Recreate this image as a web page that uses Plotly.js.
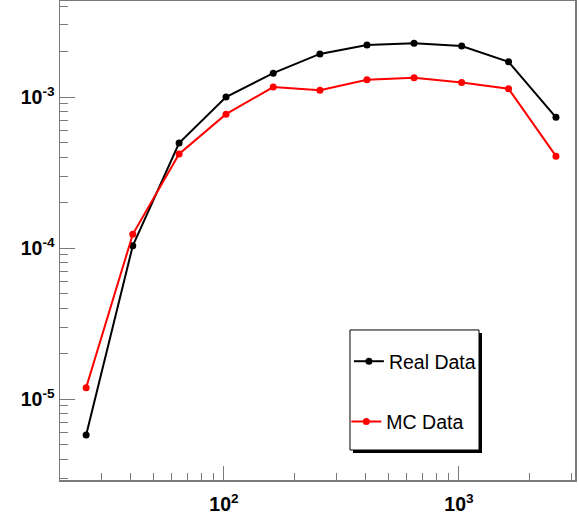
<!DOCTYPE html>
<html>
<head>
<meta charset="utf-8">
<script src="https://cdn.plot.ly/plotly-3.0.1.min.js"></script>
<style>html,body{margin:0;padding:0;background:#fff;}#chart{width:579px;height:517px;}</style>
</head>
<body>
<div id="chart"></div>
<script>
// Data (log-log)
const xValues = [25.9, 40.9, 64.4, 102, 162, 256, 406, 644, 1027, 1626, 2588];
const realData = [5.78e-6, 1.035e-4, 4.96e-4, 1.0e-3, 1.44e-3, 1.93e-3, 2.21e-3, 2.27e-3, 2.18e-3, 1.71e-3, 7.34e-4];
const mcData = [1.19e-5, 1.233e-4, 4.2e-4, 7.7e-4, 1.165e-3, 1.11e-3, 1.30e-3, 1.34e-3, 1.25e-3, 1.135e-3, 4.06e-4];
const seriesNames = ["Real Data", "MC Data"];

const xTickVals = [100, 1000];
const xTickText = ["10<sup>2</sup>", "10<sup>3</sup>"];
const xMinorVals = [20, 30, 40, 50, 60, 70, 80, 90, 200, 300, 400, 500, 600, 700, 800, 900, 2000, 3000];
const yTickVals = [1e-5, 1e-4, 1e-3];
const yTickText = ["10<sup>-5</sup>", "10<sup>-4</sup>", "10<sup>-3</sup>"];
const yMinorVals = [3e-6, 4e-6, 5e-6, 6e-6, 7e-6, 8e-6, 9e-6,
  2e-5, 3e-5, 4e-5, 5e-5, 6e-5, 7e-5, 8e-5, 9e-5,
  2e-4, 3e-4, 4e-4, 5e-4, 6e-4, 7e-4, 8e-4, 9e-4,
  2e-3, 3e-3, 4e-3];

const axisColor = '#7a7a7a';
const tickFont = {family: 'Liberation Sans, Arial, sans-serif', size: 19.5, weight: 'bold', color: '#000'};

const traces = [
  {x: xValues, y: realData, name: seriesNames[0], type: 'scatter', mode: 'lines+markers',
   line: {color: '#000', width: 2}, marker: {color: '#000', size: 7}, legend: 'legend'},
  {x: xValues, y: mcData, name: seriesNames[1], type: 'scatter', mode: 'lines+markers',
   line: {color: '#ff0000', width: 2}, marker: {color: '#ff0000', size: 7}, legend: 'legend2'}
];

const legendFont = {family: 'Liberation Sans, Arial, sans-serif', size: 19.5, color: '#000'};

const layout = {
  width: 579, height: 517,
  margin: {l: 60, r: 4, t: 1, b: 37},
  paper_bgcolor: '#fff', plot_bgcolor: '#fff',
  showlegend: true,
  xaxis: {
    type: 'log', range: [1.302, 3.494],
    tickmode: 'array', tickvals: xTickVals, ticktext: xTickText,
    ticks: 'inside', ticklen: 14, tickwidth: 1, tickcolor: axisColor,
    minor: {tickmode: 'array', tickvals: xMinorVals, ticks: 'inside', ticklen: 7, tickwidth: 1, tickcolor: axisColor, showgrid: false},
    showline: true, linecolor: axisColor, linewidth: 1.5, mirror: true,
    showgrid: false, zeroline: false, tickfont: tickFont, ticklabelstandoff: 6
  },
  yaxis: {
    type: 'log', range: [-5.536, -2.364],
    tickmode: 'array', tickvals: yTickVals, ticktext: yTickText,
    ticks: 'inside', ticklen: 15, tickwidth: 1, tickcolor: axisColor,
    minor: {tickmode: 'array', tickvals: yMinorVals, ticks: 'inside', ticklen: 8, tickwidth: 1, tickcolor: axisColor, showgrid: false},
    showline: true, linecolor: axisColor, linewidth: 1.5, mirror: true,
    showgrid: false, zeroline: false, tickfont: tickFont
  },
  legend: {x: 0.561, y: 0.288, xanchor: 'left', yanchor: 'top', bgcolor: 'rgba(0,0,0,0)', borderwidth: 0, font: legendFont},
  legend2: {x: 0.556, y: 0.162, xanchor: 'left', yanchor: 'top', bgcolor: 'rgba(0,0,0,0)', borderwidth: 0, font: legendFont},
  shapes: [
    {type: 'rect', xref: 'paper', yref: 'paper', x0: 0.5689, x1: 0.8194, y0: 0.0562, y1: 0.3069,
     fillcolor: '#000', line: {width: 0}, layer: 'above'},
    {type: 'rect', xref: 'paper', yref: 'paper', x0: 0.5631, x1: 0.8136, y0: 0.0626, y1: 0.3132,
     fillcolor: '#fff', line: {color: '#000', width: 1}, layer: 'above'}
  ]
};

Plotly.newPlot('chart', traces, layout, {displayModeBar: false, staticPlot: true});
</script>
</body>
</html>
